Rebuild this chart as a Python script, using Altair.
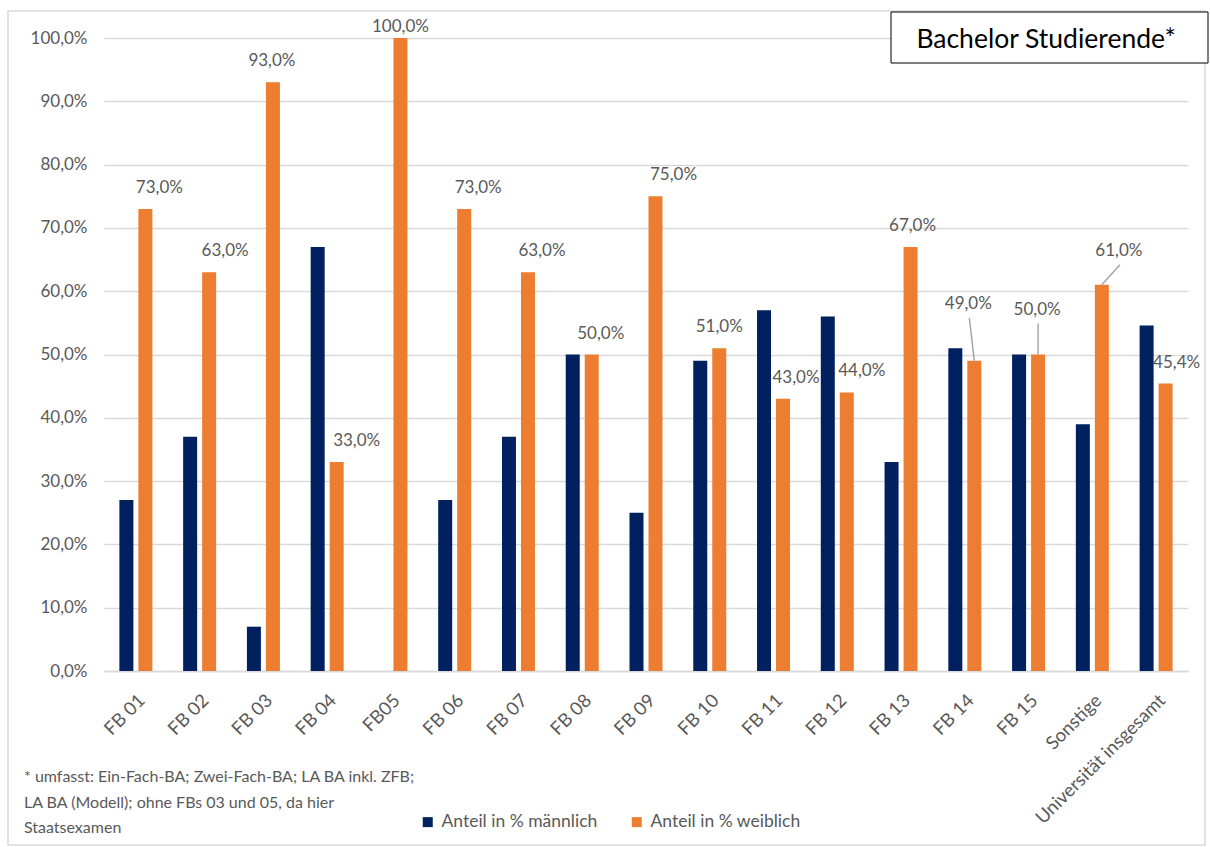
import altair as alt
import pandas as pd

# Fachbereiche (x categories)
categories = ["FB 01", "FB 02", "FB 03", "FB 04", "FB05", "FB 06", "FB 07", "FB 08",
              "FB 09", "FB 10", "FB 11", "FB 12", "FB 13", "FB 14", "FB 15",
              "Sonstige", "Universität insgesamt"]
# Anteil in % männlich / weiblich
male = [27, 37, 7, 67, 0, 27, 37, 50, 25, 49, 57, 56, 33, 51, 50, 39, 54.6]
female = [73, 63, 93, 33, 100, 73, 63, 50, 75, 51, 43, 44, 67, 49, 50, 61, 45.4]

series = ["Anteil in % männlich", "Anteil in % weiblich"]
colors = ["#002060", "#ED7D31"]

footnote = ["* umfasst: Ein-Fach-BA; Zwei-Fach-BA; LA BA inkl. ZFB;",
            "LA BA (Modell); ohne FBs 03 und 05, da hier",
            "Staatsexamen"]
title_text = "Bachelor Studierende*"

FONT = "Lato"
GREY = "#595959"
W, H = 1084, 633
STEP = W / len(categories)          # px per category
PX_Y = H / 100.0                    # px per percentage point

# label placement (pixels): horizontal shift from the orange bar, lift above bar top
label_dx = {"FB 01": 14, "FB 02": 16, "FB 03": -1, "FB 04": 20, "FB05": 0, "FB 06": 14,
            "FB 07": 14, "FB 08": 9, "FB 09": 18, "FB 10": 0, "FB 11": 13, "FB 12": 15,
            "FB 13": 2, "FB 14": -6, "FB 15": -1, "Sonstige": 17,
            "Universität insgesamt": 11}
label_lift = {"FB05": 11, "FB 14": 57, "FB 15": 45, "Sonstige": 34}
with_leader = ["FB 14", "FB 15", "Sonstige"]

rows = []
for c, m, f in zip(categories, male, female):
    rows.append({"cat": c, "series": series[0], "value": m})
    rows.append({"cat": c, "series": series[1], "value": f})
bars_df = pd.DataFrame(rows)

lab_rows = []
lead_rows = []
for i, (c, f) in enumerate(zip(categories, female)):
    bar_pos = i + 0.5 + 9.5 / STEP
    lx = bar_pos + label_dx[c] / STEP
    ly = f + label_lift.get(c, 21) / PX_Y
    lab_rows.append({"pos": lx, "y": ly,
                     "txt": f"{f:.1f}".replace(".", ",") + "%"})
    if c in with_leader:
        lead_rows.append({"x1": lx + 1 / STEP, "y1": ly - 14 / PX_Y,
                          "x2": bar_pos, "y2": f})
lab_df = pd.DataFrame(lab_rows)
lead_df = pd.DataFrame(lead_rows)

y_scale = alt.Scale(domain=[0, 100], nice=False)
xq_scale = alt.Scale(domain=[0, len(categories)], nice=False, zero=False)

bars = alt.Chart(bars_df).mark_bar().encode(
    x=alt.X("cat:N", sort=categories, title=None,
            scale=alt.Scale(paddingInner=0.4825, paddingOuter=0.24125),
            axis=alt.Axis(labelAngle=-45, labelAlign="right", labelBaseline="middle",
                          labelPadding=26, labelOffset=6, ticks=False, grid=False,
                          domainColor="#d9d9d9", domainWidth=1.5,
                          labelFont=FONT, labelFontSize=18.5, labelColor=GREY,
                          labelOverlap=False, labelBound=False, labelFlush=False)),
    xOffset=alt.XOffset("series:N", sort=series, scale=alt.Scale(paddingInner=5 / 19, paddingOuter=0)),
    y=alt.Y("value:Q", scale=y_scale, title=None,
            axis=alt.Axis(values=list(range(0, 101, 10)), ticks=False, domain=False,
                          gridColor="#d9d9d9", gridWidth=1.5, labelPadding=17,
                          labelFont=FONT, labelFontSize=17, labelColor=GREY,
                          labelExpr="replace(format(datum.value, '.1f'), '.', ',') + '%'")),
    color=alt.Color("series:N", sort=series,
                    scale=alt.Scale(domain=series, range=colors),
                    legend=alt.Legend(title=None, orient="none", direction="horizontal",
                                      legendX=315, legendY=775, symbolType="square",
                                      symbolSize=100, symbolStrokeWidth=0,
                                      labelFont=FONT, labelFontSize=17.5, labelColor=GREY,
                                      labelOffset=5, columnPadding=30)),
)

labels = alt.Chart(lab_df).mark_text(font=FONT, fontSize=17, color=GREY,
                                     align="center", baseline="middle").encode(
    x=alt.X("pos:Q", scale=xq_scale, axis=None),
    y=alt.Y("y:Q", scale=y_scale, axis=None),
    text="txt:N",
)

leaders = alt.Chart(lead_df).mark_rule(color="#a6a6a6", strokeWidth=1.5).encode(
    x=alt.X("x1:Q", scale=xq_scale, axis=None),
    x2="x2:Q",
    y=alt.Y("y1:Q", scale=y_scale, axis=None),
    y2="y2:Q",
)

one = pd.DataFrame({"k": [0]})
frame = alt.Chart(one).mark_rect(fill=None, stroke="#d9d9d9", strokeWidth=1.5).encode(
    x=alt.value(-96), x2=alt.value(1101), y=alt.value(-27), y2=alt.value(807))

title_box = alt.Chart(one).mark_rect(fill="white", stroke="black", strokeWidth=1).encode(
    x=alt.value(787), x2=alt.value(1104), y=alt.value(-26), y2=alt.value(25))
title = alt.Chart(pd.DataFrame({"t": [title_text]})).mark_text(
    font=FONT, fontSize=26.5, color="black", align="center", baseline="middle").encode(
    x=alt.value(942), y=alt.value(2), text="t:N")

note = alt.Chart(pd.DataFrame({"t": footnote, "row": [0, 1, 2]})).mark_text(
    font=FONT, fontSize=16, color=GREY, align="left", baseline="middle").encode(
    x=alt.value(-80),
    y=alt.Y("row:Q", scale=alt.Scale(domain=[0, 2], range=[739, 790], zero=False, nice=False),
            axis=None),
    text="t:N")

chart = alt.layer(frame, bars, labels, leaders, title_box, title, note).resolve_scale(
    x="independent", y="independent"
).properties(
    width=W, height=H,
    autosize=alt.AutoSizeParams(type="none"),
    padding={"left": 104, "top": 38, "right": 22, "bottom": 176},
    background="white",
).configure_view(stroke=None)

chart.save("out.html", embed_options={"renderer": "svg", "actions": False})
